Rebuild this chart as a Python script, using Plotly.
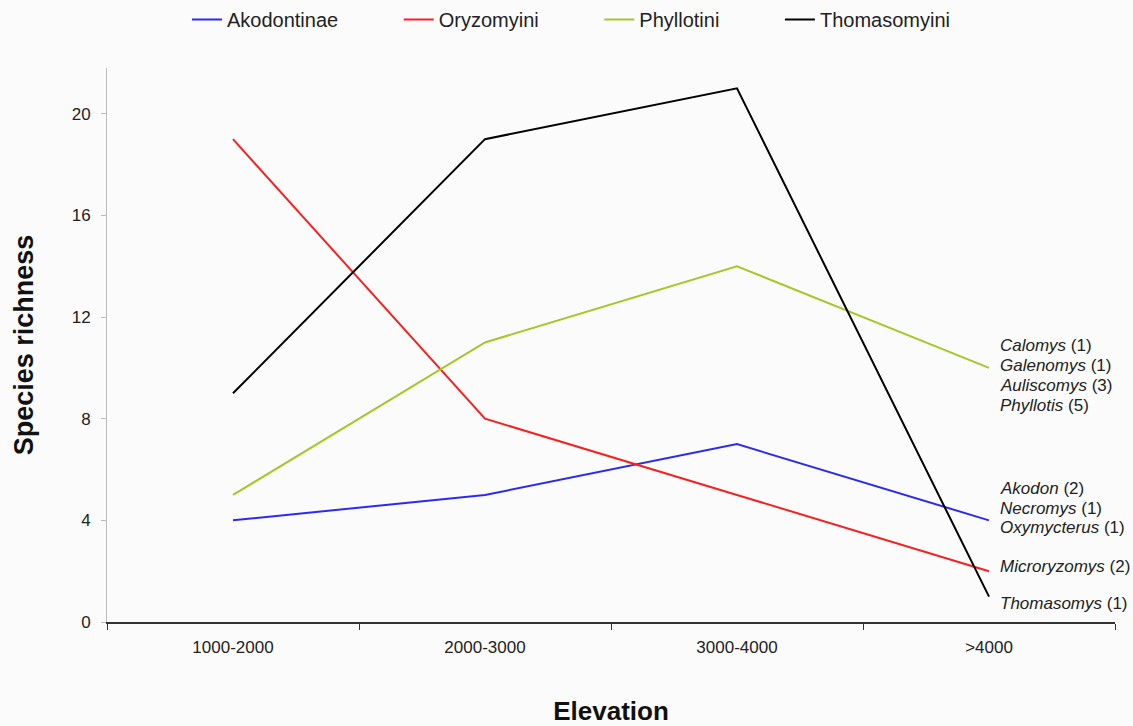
import plotly.graph_objects as go

# Data
elevation = ["1000-2000", "2000-3000", "3000-4000", ">4000"]
akodontinae = [4, 5, 7, 4]
oryzomyini = [19, 8, 5, 2]
phyllotini = [5, 11, 14, 10]
thomasomyini = [9, 19, 21, 1]

series = [
    ("Akodontinae", akodontinae, "#2b2bee"),
    ("Oryzomyini", oryzomyini, "#f62020"),
    ("Phyllotini", phyllotini, "#a6c62a"),
    ("Thomasomyini", thomasomyini, "#000000"),
]

# genus labels at the >4000 end, (genus, count)
phyllotini_genera = [("Calomys", 1), ("Galenomys", 1), ("Auliscomys", 3), ("Phyllotis", 5)]
akodontinae_genera = [("Akodon", 2), ("Necromys", 1), ("Oxymycterus", 1)]
oryzomyini_genera = [("Microryzomys", 2)]
thomasomyini_genera = [("Thomasomys", 1)]

FONT = "Liberation Sans, Arial, sans-serif"
PAD = "\u00a0" * 10  # spacing between legend entries

fig = go.Figure()
for name, vals, color in series:
    fig.add_trace(go.Scatter(
        x=elevation, y=vals, name=name + PAD, mode="lines",
        line=dict(color=color, width=2),
    ))

# label blocks: (genera, top y in data units, step)
blocks = [
    (phyllotini_genera, 10.9, 0.79),
    (akodontinae_genera, 5.24, 0.77),
    (oryzomyini_genera, 2.2, 0.8),
    (thomasomyini_genera, 0.71, 0.8),
]
annotations = []
for genera, y0, step in blocks:
    for i, (genus, n) in enumerate(genera):
        annotations.append(dict(
            x=3.035, y=y0 - i * step, xref="x", yref="y",
            text=f"<i>{genus}</i> ({n})", showarrow=False,
            xanchor="left", yanchor="middle",
            font=dict(family=FONT, size=17, color="#222222"),
        ))

fig.update_layout(
    width=1133, height=726,
    paper_bgcolor="#fbfbfb", plot_bgcolor="#fbfbfb",
    font=dict(family=FONT, size=17, color="#222222"),
    margin=dict(l=107, r=18, t=68, b=104),
    showlegend=True,
    legend=dict(
        orientation="h", xref="container", yref="container",
        x=0.165, xanchor="left", y=1.0, yanchor="top",
        font=dict(family=FONT, size=20, color="#222222"),
        bgcolor="rgba(0,0,0,0)",
    ),
    annotations=annotations,
)
fig.update_xaxes(
    type="category", range=[-0.5, 3.5], automargin=False,
    showline=True, linecolor="#333333", linewidth=2,
    tickson="boundaries", ticks="outside", ticklen=6, tickcolor="#333333",
    ticklabelstandoff=9,
    showgrid=False, zeroline=False,
    tickfont=dict(size=17, color="#222222"),
    title=dict(text="<b>Elevation</b>", font=dict(size=26, color="#111111"), standoff=46),
)
fig.update_yaxes(
    range=[0, 21.8], tickvals=[0, 4, 8, 12, 16, 20], automargin=False,
    showline=True, linecolor="#bbbbbb", linewidth=1,
    ticks="outside", ticklen=5, tickcolor="#bbbbbb",
    ticklabelstandoff=7,
    showgrid=False, zeroline=False,
    tickfont=dict(size=17, color="#222222"),
    title=dict(text="<b>Species richness</b>", font=dict(size=27, color="#111111"), standoff=30),
)

fig.write_html(
    "out.html",
    config={"displayModeBar": False},
    post_script="document.body.style.margin='0';",
)
